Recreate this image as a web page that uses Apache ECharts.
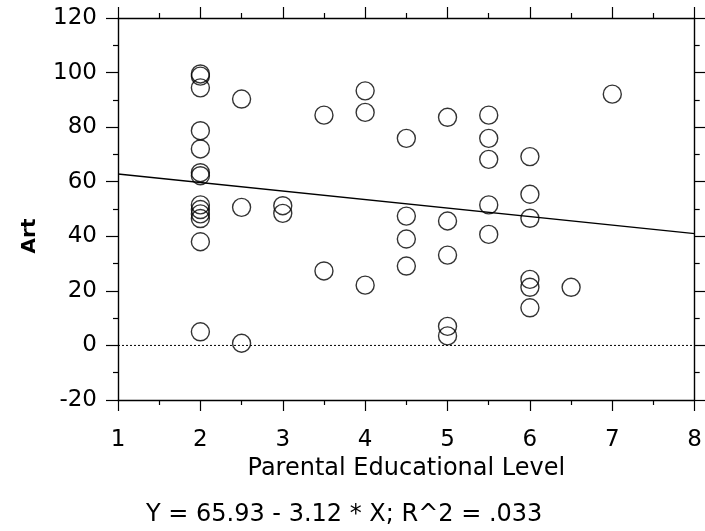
<!DOCTYPE html>
<html>
<head>
<meta charset="utf-8">
<script src="https://cdn.jsdelivr.net/npm/echarts@6/dist/echarts.min.js"></script>
<style>
  html, body { margin: 0; padding: 0; background: #fff; }
  #chart { width: 705px; height: 531px; }
</style>
</head>
<body>
<div id="chart"></div>
<script>
// Parental educational level (x) and Art score (y), one entry per student
const eduLevel = [
  2, 2, 2, 2, 2, 2, 2, 2, 2, 2, 2, 2, 2,
  2.5, 2.5, 2.5,
  3, 3,
  3.5, 3.5,
  4, 4, 4,
  4.5, 4.5, 4.5, 4.5,
  5, 5, 5, 5, 5,
  5.5, 5.5, 5.5, 5.5, 5.5,
  6, 6, 6, 6, 6, 6,
  6.5,
  7
];
const artScore = [
  99.5, 98.7, 94.4, 78.7, 72, 63.3, 62.2, 51.5, 49.8, 48.2, 46.5, 38, 5,
  90.3, 50.6, 0.8,
  51.2, 48.4,
  84.4, 27.3,
  93.3, 85.4, 22.1,
  75.9, 47.4, 39, 29.1,
  83.6, 45.6, 33.1, 7, 3.5,
  84.4, 75.9, 68.2, 51.5, 40.7,
  69.2, 55.4, 46.6, 24.2, 21.3, 13.8,
  21.3,
  92.1
];

// Least-squares fit reported under the chart
const fitIntercept = 65.93;
const fitSlope = -3.12;
const fitR2 = '.033';

const xRange = [1, 8];
const yRange = [-20, 120];

const points = eduLevel.map((x, i) => [x, artScore[i]]);
const fitLine = xRange.map(x => [x, fitIntercept + fitSlope * x]);
const zeroLine = xRange.map(x => [x, 0]);

const font = 'DejaVu Sans';
const axisColor = '#000';

function xAxisDef(pos, labels) {
  return {
    type: 'value', position: pos, min: xRange[0], max: xRange[1], interval: 1,
    axisLine: { show: true, onZero: false, lineStyle: { color: axisColor, width: 1.4 } },
    axisTick: { show: true, inside: false, length: 11, lineStyle: { color: axisColor, width: 1.2 } },
    minorTick: { show: true, splitNumber: 2, length: 5, lineStyle: { color: axisColor, width: 1.2 } },
    splitLine: { show: false },
    axisLabel: { show: labels, color: '#000', fontFamily: font, fontSize: 23, margin: 29 },
    name: labels ? 'Parental Educational Level' : '',
    nameLocation: 'middle', nameGap: 57,
    nameTextStyle: { color: '#000', fontFamily: font, fontSize: 24 }
  };
}
function yAxisDef(pos, labels) {
  return {
    type: 'value', position: pos, min: yRange[0], max: yRange[1], interval: 20,
    axisLine: { show: true, onZero: false, lineStyle: { color: axisColor, width: 1.4 } },
    axisTick: { show: true, inside: false, length: 12, lineStyle: { color: axisColor, width: 1.2 } },
    minorTick: { show: true, splitNumber: 2, length: 5, lineStyle: { color: axisColor, width: 1.2 } },
    splitLine: { show: false },
    axisLabel: { show: labels, color: '#000', fontFamily: font, fontSize: 23, margin: 21 }
  };
}

const chart = echarts.init(document.getElementById('chart'), null, { renderer: 'canvas' });
chart.setOption({
  animation: false,
  backgroundColor: '#fff',
  grid: { left: 118, right: 9, top: 18, bottom: 131, containLabel: false },
  xAxis: [xAxisDef('bottom', true), xAxisDef('top', false)],
  yAxis: [yAxisDef('left', true), yAxisDef('right', false)],
  graphic: [
    {
      type: 'text', x: 30, y: 236, rotation: Math.PI / 2,
      style: { text: 'Art', fontFamily: font, fontSize: 20, fontWeight: 'bold',
               fill: '#000', textAlign: 'center', textVerticalAlign: 'middle' }
    },
    {
      type: 'text', left: 146, top: 503,
      style: { text: 'Y = ' + fitIntercept.toFixed(2) + ' - ' + Math.abs(fitSlope).toFixed(2) +
                     ' * X; R^2 = ' + fitR2,
               fontFamily: font, fontSize: 24, fill: '#000' }
    }
  ],
  series: [
    {
      type: 'line', data: zeroLine, symbol: 'none', silent: true,
      lineStyle: { color: '#000', width: 1, type: [2, 2] }
    },
    {
      type: 'line', data: fitLine, symbol: 'none', silent: true,
      lineStyle: { color: '#000', width: 1.4 }
    },
    {
      type: 'scatter', data: points, symbol: 'circle', symbolSize: 18,
      itemStyle: { color: 'rgba(0,0,0,0)', borderColor: '#000', borderWidth: 1.4 }
    }
  ]
});
</script>
</body>
</html>
